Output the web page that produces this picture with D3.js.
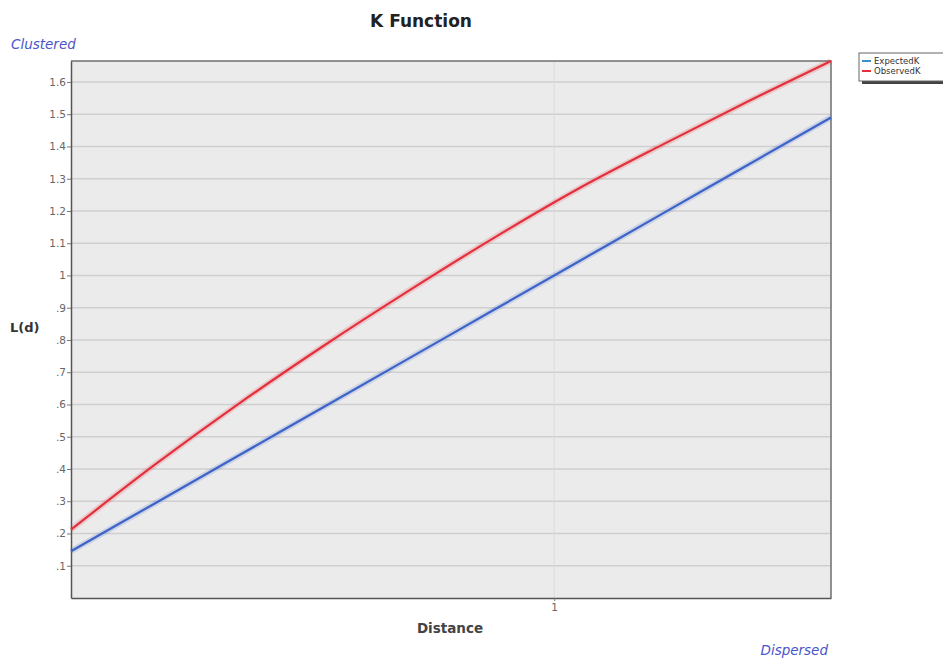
<!DOCTYPE html>
<html>
<head>
<meta charset="utf-8">
<script src="https://cdn.jsdelivr.net/npm/d3@7"></script>
<style>
  html, body { margin: 0; padding: 0; background: #fff; }
  svg { display: block; }
</style>
</head>
<body>
<svg id="chart" width="943" height="661"></svg>
<script>
// ---- data ----
const distances = [0.145, 0.294, 0.444, 0.593, 0.743, 0.892, 1.042, 1.191, 1.341, 1.490];
const expectedK = [0.145, 0.294, 0.444, 0.593, 0.743, 0.892, 1.042, 1.191, 1.341, 1.490];
const observedK = [0.212, 0.414, 0.605, 0.783, 0.953, 1.115, 1.268, 1.405, 1.538, 1.665];
const yTicks = [0.1, 0.2, 0.3, 0.4, 0.5, 0.6, 0.7, 0.8, 0.9, 1.0, 1.1, 1.2, 1.3, 1.4, 1.5, 1.6];
const xTicks = [1];
const seriesNames = ["ExpectedK", "ObservedK"];
const seriesColors = ["#3d63c9", "#e3303c"];
const legendColors = ["#3a8fd0", "#e3303c"];

const svg = d3.select("#chart");
const m = { left: 71, right: 831, top: 61, bottom: 598 };
const FONT = "Tahoma, Verdana, 'DejaVu Sans', sans-serif";

const x = d3.scaleLinear().domain([0.145, 1.49]).range([m.left, m.right]);
const y = d3.scaleLinear().domain([0, 1.665]).range([m.bottom, m.top]);

// plot background
svg.append("rect")
  .attr("x", m.left).attr("y", m.top)
  .attr("width", m.right - m.left).attr("height", m.bottom - m.top)
  .attr("fill", "#ebebeb");

// horizontal gridlines
svg.append("g").selectAll("line").data(yTicks).join("line")
  .attr("x1", m.left).attr("x2", m.right)
  .attr("y1", d => y(d)).attr("y2", d => y(d))
  .attr("stroke", "#cfcfcf").attr("stroke-width", 1.6);

// vertical gridlines
svg.append("g").selectAll("line").data(xTicks).join("line")
  .attr("x1", d => x(d)).attr("x2", d => x(d))
  .attr("y1", m.top).attr("y2", m.bottom)
  .attr("stroke", "#dadada").attr("stroke-width", 1);

// border top/right
svg.append("path")
  .attr("d", `M${m.left},${m.top}H${m.right}V${m.bottom}`)
  .attr("fill", "none").attr("stroke", "#6f6f6f").attr("stroke-width", 1.5);

// axes
const fmt = d => {
  if (Math.abs(d - 1) < 1e-9) return "1";
  const s = d3.format(".1f")(d);
  return d < 1 ? s.replace(/^0/, "") : s;
};
const yAxis = svg.append("g")
  .attr("transform", `translate(${m.left},0)`)
  .call(d3.axisLeft(y).tickValues(yTicks).tickFormat(fmt).tickSize(4).tickSizeOuter(0));
yAxis.select(".domain").attr("stroke", "#555").attr("stroke-width", 1.5);
yAxis.selectAll(".tick line").attr("stroke", "#777");
yAxis.selectAll("text").attr("fill", "#666").style("font-family", FONT).style("font-size", "10.5px").attr("x", -5);

const xAxis = svg.append("g")
  .attr("transform", `translate(0,${m.bottom})`)
  .call(d3.axisBottom(x).tickValues(xTicks).tickFormat(d3.format("d")).tickSize(3).tickSizeOuter(0));
xAxis.select(".domain").attr("stroke", "#555").attr("stroke-width", 1.5);
xAxis.selectAll(".tick line").attr("stroke", "#777");
xAxis.selectAll("text").attr("fill", "#666").style("font-family", FONT).style("font-size", "10.5px").attr("y", 6);

// lines
const series = [expectedK, observedK];
const line = d3.line().curve(d3.curveMonotoneX).x((d, i) => x(distances[i])).y(d => y(d));
series.forEach((vals, k) => {
  svg.append("path").datum(vals)
    .attr("d", line).attr("fill", "none")
    .attr("stroke", seriesColors[k]).attr("stroke-opacity", 0.18).attr("stroke-width", 6);
  svg.append("path").datum(vals)
    .attr("d", line).attr("fill", "none")
    .attr("stroke", seriesColors[k]).attr("stroke-width", 2.2);
});

// title & labels
svg.append("text").attr("x", 421).attr("y", 27).attr("text-anchor", "middle")
  .style("font-family", FONT).style("font-weight", "bold").style("font-size", "17px")
  .attr("fill", "#222").text("K Function");

svg.append("text").attr("x", 11).attr("y", 49)
  .style("font-family", FONT).style("font-style", "italic").style("font-size", "13.5px")
  .attr("fill", "#4a55cc").text("Clustered");

svg.append("text").attr("x", 828).attr("y", 655).attr("text-anchor", "end")
  .style("font-family", FONT).style("font-style", "italic").style("font-size", "13.5px")
  .attr("fill", "#4a55cc").text("Dispersed");

svg.append("text").attr("x", 10).attr("y", 332)
  .style("font-family", FONT).style("font-weight", "bold").style("font-size", "13px")
  .attr("fill", "#333").text("L(d)");

svg.append("text").attr("x", 450).attr("y", 633).attr("text-anchor", "middle")
  .style("font-family", FONT).style("font-weight", "bold").style("font-size", "13.5px")
  .attr("fill", "#444").text("Distance");

// legend
const lg = svg.append("g").attr("transform", "translate(859,53)");
lg.append("rect").attr("x", 3).attr("y", 3).attr("width", 90).attr("height", 28).attr("fill", "#444");
lg.append("rect").attr("x", 0).attr("y", 0).attr("width", 90).attr("height", 28)
  .attr("fill", "#fff").attr("stroke", "#666").attr("stroke-width", 1);
seriesNames.forEach((n, i) => {
  lg.append("line").attr("x1", 3).attr("x2", 12).attr("y1", 8 + i * 10).attr("y2", 8 + i * 10)
    .attr("stroke", legendColors[i]).attr("stroke-width", 2);
  lg.append("text").attr("x", 15).attr("y", 11 + i * 10)
    .style("font-family", FONT).style("font-size", "8.5px")
    .attr("fill", "#333").text(n);
});
</script>
</body>
</html>
